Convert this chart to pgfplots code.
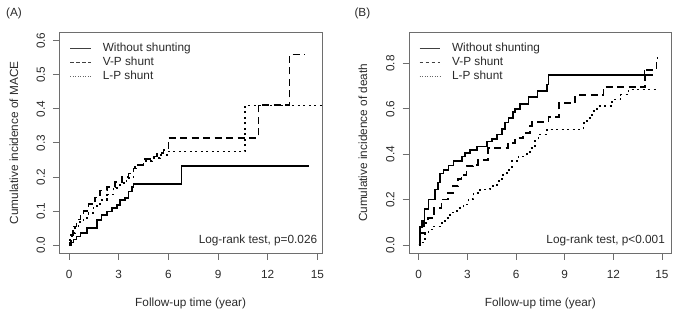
\documentclass[border=0pt]{standalone}
\usepackage{fontspec}
\setmainfont{Liberation Sans}
\usepackage{pgfplots}
\pgfplotsset{compat=1.18}
\definecolor{boxgray}{HTML}{6E6E6E}
\definecolor{txt}{HTML}{2A2A2A}
\pgfplotsset{
  kmaxis/.style={
    scale only axis, width=262.7bp, height=220.8bp,
    axis line style={boxgray, line width=0.9bp},
    tick style={boxgray, line width=0.9bp},
    tick align=outside, major tick length=6.5bp,
    xtick pos=left, ytick pos=left,
    xtick={0,3,6,9,12,15},
    /pgf/number format/assume math mode=true,
    ticklabel style={font=\fontsize{11.8bp}{14bp}\selectfont, text=txt},
    xticklabel shift=6.8bp,
    yticklabel style={rotate=90, anchor=south, /pgf/number format/.cd, fixed, fixed zerofill, precision=1},
    yticklabel shift=4.4bp,
    label style={font=\fontsize{11.8bp}{14bp}\selectfont, text=txt},
    xlabel={Follow-up time (year)},
    xlabel style={at={(axis description cs:0.5,-0.2418)}, anchor=base},
    clip=true,
    legend image code/.code={\draw[#1] (0bp,0bp) -- (20.5bp,0bp);},
    legend cell align=left,
    legend style={draw=none, fill=none, at={(axis description cs:0,1)}, anchor=north west,
      inner sep=0pt, outer sep=0pt, row sep=1.7bp,
      font=\fontsize{11.8bp}{14bp}\selectfont, text=txt,
      nodes={inner sep=0pt, text height=8.8bp, text depth=3.2bp},
      /tikz/every odd column/.style={column sep=11.5bp}},
    km/.style={const plot, black, line width=1.6bp, no marks},
  },
}
\begin{document}
\begin{tikzpicture}
\path[use as bounding box] (0bp,0bp) rectangle (677bp,317bp);
\node[anchor=base west, font=\fontsize{11.8bp}{14bp}\selectfont, text=txt, inner sep=0pt] at (6bp,300bp) {(A)};
\node[anchor=base west, font=\fontsize{11.8bp}{14bp}\selectfont, text=txt, inner sep=0pt] at (354.3bp,300bp) {(B)};
\begin{axis}[kmaxis, at={(59.3bp,63.7bp)}, anchor=south west,
  xmin=-0.59, xmax=15.28, ymin=-0.024, ymax=0.624,
  ytick={0,0.1,0.2,0.3,0.4,0.5,0.6},
  ylabel={Cumulative incidence of MACE},
  ylabel style={at={(axis description cs:-0.1725,0.5)}, anchor=center},
  legend style={xshift=10.7bp, yshift=-10.4bp}]
\addlegendimage{black!75, line width=0.8bp}
\addlegendentry{Without shunting}
\addlegendimage{black!75, line width=0.8bp, dash pattern=on 3.5bp off 2.5bp}
\addlegendentry{V-P shunt}
\addlegendimage{black!60, line width=0.8bp, dash pattern=on 1bp off 1.5bp}
\addlegendentry{L-P shunt}
\addplot[km, forget plot] coordinates {(0,0) (0.05,0.008) (0.26,0.016) (0.46,0.025) (0.7,0.035) (1.07,0.05) (1.7,0.074) (1.97,0.089) (2.28,0.099) (2.58,0.109) (2.88,0.118) (3.08,0.133) (3.38,0.138) (3.58,0.157) (3.8,0.17) (3.89,0.179) (6.8,0.233) (14.48,0.233)};
\addplot[km, forget plot, dash pattern=on 7bp off 4.5bp] coordinates {(0,0) (0.1,0.03) (0.22,0.055) (0.46,0.075) (0.7,0.09) (0.87,0.1) (1.17,0.12) (1.57,0.14) (1.87,0.16) (2.28,0.17) (2.78,0.185) (3.18,0.2) (3.58,0.21) (3.89,0.225) (4.19,0.235) (4.49,0.253) (4.89,0.26) (5.3,0.27) (5.7,0.28) (6.0,0.315) (11.44,0.412) (13.31,0.559) (14.22,0.559)};
\addplot[km, forget plot, dash pattern=on 2bp off 3.5bp] coordinates {(0,0) (0.06,0.016) (0.16,0.035) (0.36,0.055) (0.56,0.067) (0.87,0.08) (1.17,0.094) (1.47,0.114) (1.87,0.133) (2.28,0.148) (2.68,0.168) (3.08,0.182) (3.48,0.197) (3.89,0.22) (4.0,0.235) (4.49,0.246) (5.0,0.255) (5.5,0.265) (5.9,0.275) (10.63,0.41) (15.5,0.41)};
\node[anchor=base east, inner sep=0pt, font=\fontsize{11.8bp}{14bp}\selectfont, text=txt] at (axis cs:15,0.006) {Log-rank test, p=0.026};
\end{axis}
\begin{axis}[kmaxis, at={(409bp,63.7bp)}, anchor=south west,
  xmin=-0.6, xmax=15.6, ymin=-0.036, ymax=0.936,
  ytick={0,0.2,0.4,0.6,0.8},
  ylabel={Cumulative incidence of death},
  ylabel style={at={(axis description cs:-0.175,0.5)}, anchor=center},
  legend style={xshift=10.3bp, yshift=-10.4bp}]
\addlegendimage{black!75, line width=0.8bp}
\addlegendentry{Without shunting}
\addlegendimage{black!75, line width=0.8bp, dash pattern=on 3.5bp off 2.5bp}
\addlegendentry{V-P shunt}
\addlegendimage{black!60, line width=0.8bp, dash pattern=on 1bp off 1.5bp}
\addlegendentry{L-P shunt}
\addplot[km, forget plot] coordinates {(0,0) (0.08,0.08) (0.21,0.105) (0.35,0.16) (0.6,0.2) (1.01,0.245) (1.17,0.275) (1.32,0.315) (1.52,0.33) (1.83,0.35) (2.14,0.37) (2.65,0.39) (2.86,0.405) (3.17,0.418) (3.58,0.435) (4.2,0.457) (4.5,0.468) (4.81,0.487) (5.12,0.51) (5.33,0.54) (5.53,0.56) (5.8,0.585) (5.95,0.6) (6.26,0.62) (6.77,0.651) (7.33,0.678) (7.9,0.707) (8.0,0.749) (14.44,0.749)};
\addplot[only marks, mark=|, mark size=5bp, black, line width=1bp, forget plot] coordinates {(13.9,0.749)};
\addplot[km, forget plot, dash pattern=on 7bp off 4.5bp] coordinates {(0,0) (0.12,0.053) (0.33,0.097) (0.58,0.119) (0.95,0.163) (1.4,0.2) (1.81,0.23) (2.12,0.259) (2.43,0.291) (2.63,0.31) (2.94,0.347) (3.35,0.354) (3.66,0.376) (4.28,0.428) (5.51,0.45) (5.93,0.472) (6.44,0.494) (6.85,0.524) (7.0,0.541) (8.0,0.563) (8.65,0.626) (9.65,0.66) (11.4,0.696) (13.97,0.77) (14.65,0.825) (14.7,0.825)};
\addplot[km, forget plot, dash pattern=on 2bp off 3.5bp] coordinates {(0,0) (0.1,0.012) (0.29,0.024) (0.39,0.053) (0.6,0.068) (0.9,0.082) (1.42,0.097) (1.63,0.119) (1.93,0.144) (2.35,0.163) (2.76,0.178) (3.07,0.203) (3.37,0.229) (3.79,0.244) (4.4,0.259) (4.81,0.281) (5.12,0.31) (5.43,0.332) (5.74,0.369) (6.15,0.391) (6.67,0.4) (6.87,0.428) (7.18,0.465) (7.39,0.487) (7.9,0.509) (10.16,0.538) (10.37,0.56) (10.68,0.59) (11.0,0.612) (11.91,0.641) (12.43,0.663) (12.94,0.685) (14.69,0.685)};
\node[anchor=base east, inner sep=0pt, font=\fontsize{11.8bp}{14bp}\selectfont, text=txt] at (axis cs:15.19,0.009) {Log-rank test, p<0.001};
\end{axis}
\end{tikzpicture}
\end{document}
